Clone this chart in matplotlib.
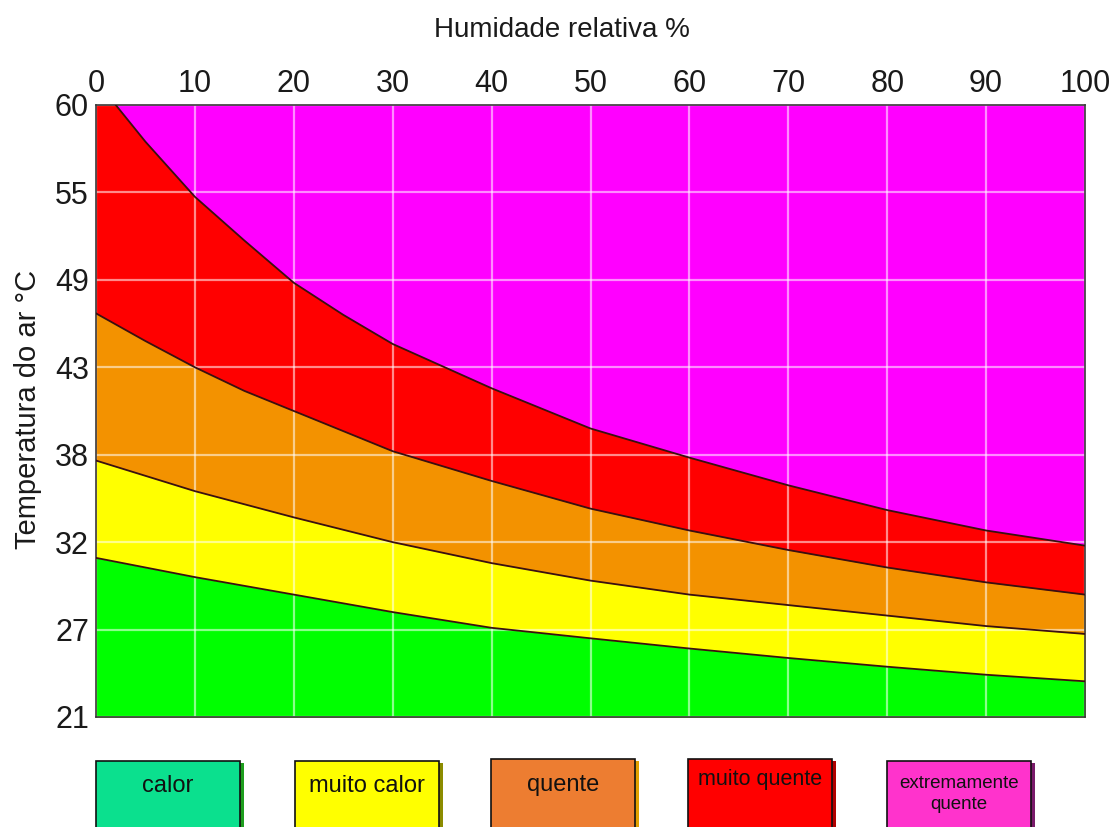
import numpy as np
import matplotlib
matplotlib.use("Agg")
import matplotlib.pyplot as plt
from matplotlib.patches import Rectangle

plt.rcParams['font.family'] = ['Liberation Sans', 'DejaVu Sans']

# ---- data ----
temp_ticks = [21, 27, 32, 38, 43, 49, 55, 60]
humidity_ticks = [0, 10, 20, 30, 40, 50, 60, 70, 80, 90, 100]

humidity = [0, 10, 20, 30, 40, 50, 60, 70, 80, 90, 100]
limit_calor = [31.1, 30.0, 29.0, 28.0, 27.1, 26.4, 25.7, 25.05, 24.45, 23.9, 23.45]
limit_muito_calor = [37.6, 35.5, 33.7, 32.0, 30.8, 29.8, 29.0, 28.4, 27.8, 27.2, 26.7]

humidity_q = [0, 5, 10, 15, 20, 30, 40, 50, 60, 70, 80, 90, 100]
limit_quente = [46.7, 44.8, 43.0, 41.65, 40.5, 38.2, 36.2, 34.3, 32.8, 31.55, 30.55, 29.7, 29.0]

humidity_mq = [2, 5, 10, 15, 20, 25, 30, 40, 50, 60, 70, 80, 90, 100]
limit_muito_quente = [60, 57.9, 54.7, 51.7, 48.8, 46.6, 44.6, 41.8, 39.5, 37.8, 35.9, 34.2, 32.8, 31.8]

legend_labels = ['calor', 'muito calor', 'quente', 'muito quente', 'extremamente\nquente']
legend_colors = ['#0BE08E', '#FFFF00', '#ED7D31', '#FF0000', '#FF33CC']
legend_shadows = ['#1E9E1E', '#8C8C00', '#E0A000', '#B00000', '#7A1A6A']

zone_colors = {'calor': '#00FF00', 'muito calor': '#FFFF00', 'quente': '#F39200',
               'muito quente': '#FF0000', 'extremamente quente': '#FF00FF'}

# ---- figure ----
W, H = 1112, 827
fig = plt.figure(figsize=(W / 100, H / 100), dpi=100)
ax = fig.add_axes([96 / W, 1 - 717 / H, (1085 - 96) / W, (717 - 105) / H])

pos = np.arange(len(temp_ticks), dtype=float)
tt = np.array(temp_ticks, dtype=float)


def fwd(t):
    return np.interp(t, tt, pos)


def inv(p):
    return np.interp(p, pos, tt)


ax.set_yscale('function', functions=(fwd, inv))
ax.set_xlim(0, 100)
ax.set_ylim(21, 60)

ax.set_facecolor(zone_colors['extremamente quente'])
ax.fill([0, 0] + humidity_mq + [100], [21, 60] + limit_muito_quente + [21],
        color=zone_colors['muito quente'], lw=0, zorder=1)
ax.fill_between(humidity_q, 21, limit_quente, color=zone_colors['quente'], lw=0, zorder=1)
ax.fill_between(humidity, 21, limit_muito_calor, color=zone_colors['muito calor'], lw=0, zorder=1)
ax.fill_between(humidity, 21, limit_calor, color=zone_colors['calor'], lw=0, zorder=1)

line_kw = dict(color='#3a1010', lw=1.3, zorder=3)
ax.plot(humidity, limit_calor, **line_kw)
ax.plot(humidity, limit_muito_calor, **line_kw)
ax.plot(humidity_q, limit_quente, **line_kw)
ax.plot(humidity_mq, limit_muito_quente, **line_kw)

ax.grid(True, color='white', alpha=0.55, lw=1.6)
ax.set_xticks(humidity_ticks)
ax.set_yticks(temp_ticks)
ax.set_yticklabels([str(t) for t in temp_ticks])
ax.yaxis.set_minor_locator(matplotlib.ticker.NullLocator())
ax.xaxis.tick_top()
ax.tick_params(axis='both', length=0, labelsize=22, labelcolor='#1a1a1a')
ax.tick_params(axis='x', pad=4)
ax.tick_params(axis='y', pad=5)
for s in ax.spines.values():
    s.set_color('#3a3a3a')
    s.set_linewidth(1.2)

fig.text(562 / W, 1 - 30 / H, 'Humidade relativa %', ha='center', va='center',
         fontsize=20, color='#1a1a1a')
fig.text(28 / W, 1 - 409 / H, 'Temperatura do ar °C', ha='center', va='center',
         rotation=90, fontsize=21, color='#1a1a1a')

# ---- legend boxes ----
box_left = [96, 295, 491, 688, 887]
box_top = [761, 761, 759, 759, 761]
box_w = 144
text_y = [786, 786, 785, 780, 794]
text_size = [17, 17, 17, 15.5, 13.5]
for i, lab in enumerate(legend_labels):
    x0 = box_left[i]
    y0 = box_top[i]
    sh = Rectangle(((x0 + 4) / W, 1 - (H + 20) / H), box_w / W, (H + 20 - y0 - 2) / H,
                   transform=fig.transFigure, facecolor=legend_shadows[i], edgecolor='none')
    fig.add_artist(sh)
    rect = Rectangle((x0 / W, 1 - (H + 20) / H), box_w / W, (H + 20 - y0) / H,
                     transform=fig.transFigure, facecolor=legend_colors[i],
                     edgecolor='#111111', lw=1.2)
    fig.add_artist(rect)
    fig.text((x0 + box_w / 2) / W, 1 - text_y[i] / H, lab, ha='center', va='center',
             fontsize=text_size[i], color='#111111', linespacing=1.35)

fig.savefig('out.png', dpi=100)
